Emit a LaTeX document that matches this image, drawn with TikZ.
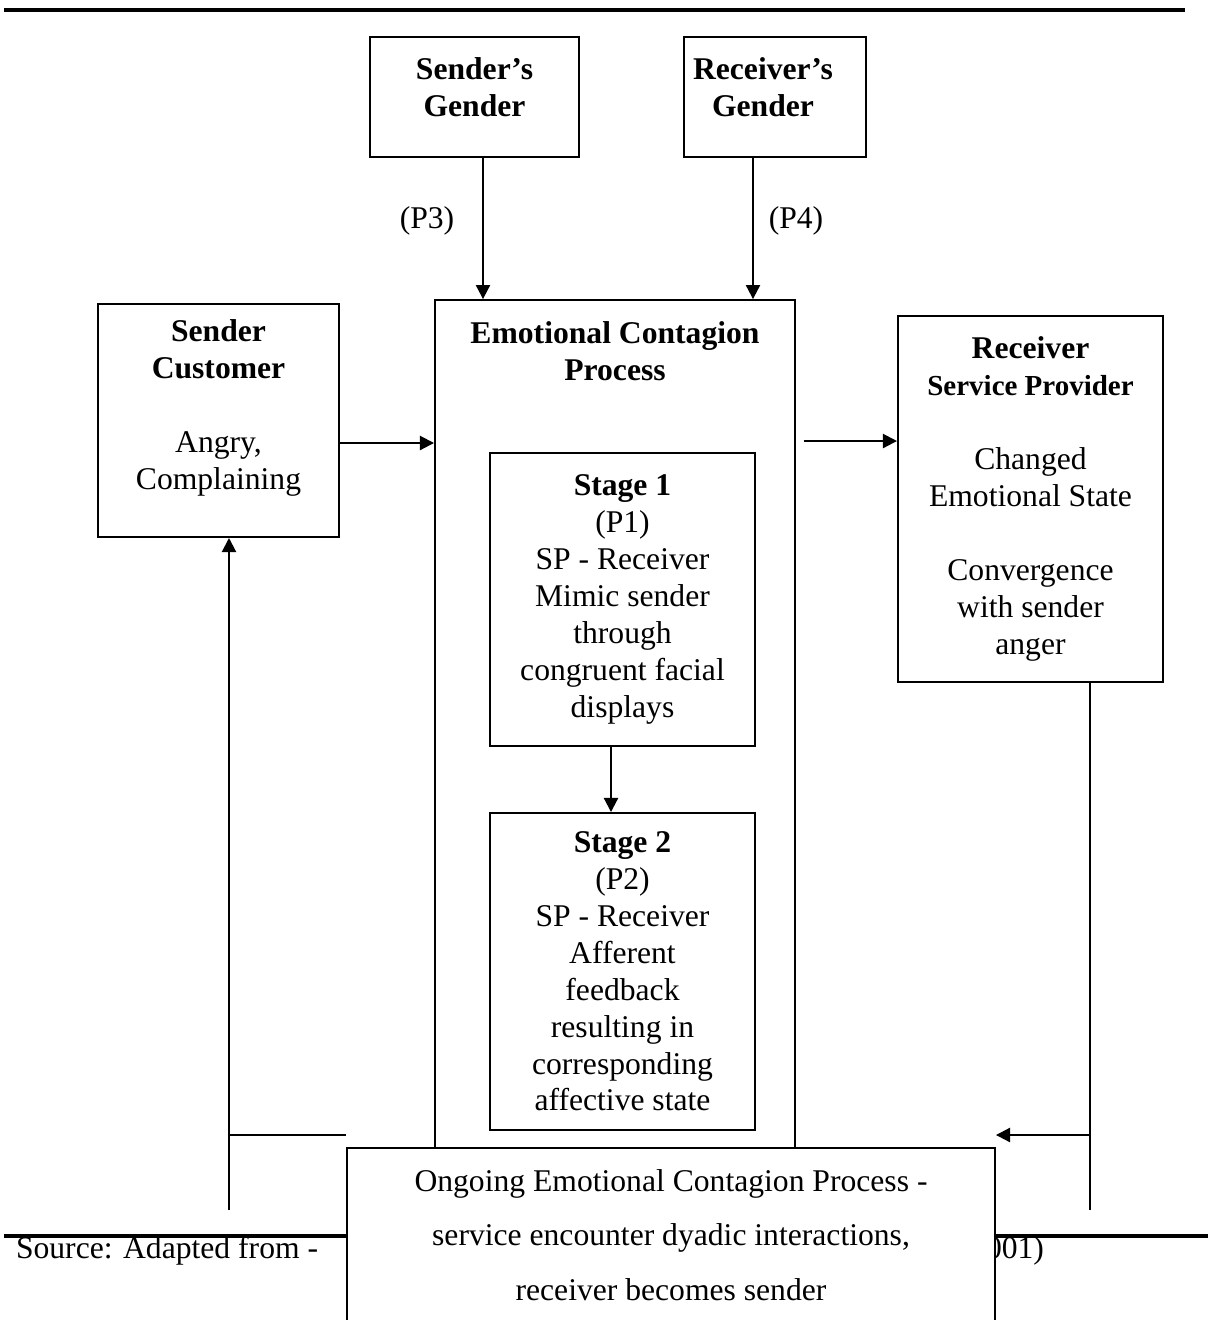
\documentclass[tikz,border=0pt]{standalone}
\usepackage{fontspec}
\setmainfont{Liberation Serif}
\usetikzlibrary{shapes,arrows.meta,positioning,calc}
\tikzstyle{block} = [rectangle, draw, inner sep=0pt]
\tikzstyle{txt} = [align=center, inner sep=0pt, font=\fontsize{18}{21}\selectfont]
\tikzstyle{rule} = [line width=1.8pt]

\begin{document}
\begin{tikzpicture}[x=0.02cm, y=-0.02cm, line width=1.15pt, >={Triangle[length=8pt,width=8pt]}]
    \useasboundingbox (0,0) rectangle (1208,1320);
    \draw[rule] (4,10) -- (1185,10);
    \draw[rule] (4,1236) -- (1208,1236);

    % moderators
    \node[block, minimum width=4.18cm, minimum height=2.4cm] (sgen) at (474.5,97) {};
    \node[txt, font=\fontsize{18}{21}\selectfont\bfseries] (sgentxt) at (474.5,87) {Sender’s\\Gender};
    \node[block, minimum width=3.64cm, minimum height=2.4cm] (rgen) at (775,97) {};
    \node[txt, font=\fontsize{18}{21}\selectfont\bfseries] (rgentxt) at (763,87) {Receiver’s\\Gender};
    \node[txt] (p3) at (427,221) {(P3)};
    \node[txt] (p4) at (796,221) {(P4)};

    % sender
    \node[block, minimum width=4.82cm, minimum height=4.66cm] (cust) at (218.5,420.5) {};
    \node[txt] (custtxt) at (218.5,408) {\textbf{Sender}\\\textbf{Customer}\\[21pt]Angry,\\Complaining};

    % process
    \node[block, minimum width=7.2cm, minimum height=18cm] (ecp) at (615,750) {};
    \node[txt, font=\fontsize{18}{21}\selectfont\bfseries] (ecptxt) at (615,351) {Emotional Contagion\\Process};
    \node[block, txt, minimum width=5.3cm, minimum height=5.86cm] (stage1) at (622.5,599.5)
        {\textbf{Stage 1}\\(P1)\\SP - Receiver\\Mimic sender\\through\\congruent facial\\displays};
    \node[block, txt, minimum width=5.3cm, minimum height=6.34cm] (stage2) at (622.5,971.5)
        {\textbf{Stage 2}\\(P2)\\SP - Receiver\\Afferent\\feedback\\resulting in\\corresponding\\affective state};

    % receiver
    \node[block, txt, minimum width=5.3cm, minimum height=7.32cm] (recv) at (1030.5,499)
        {\textbf{Receiver}\\{\fontsize{16.5}{20}\selectfont\bfseries Service Provider}\\[21pt]Changed\\Emotional State\\[21pt]Convergence\\with sender\\anger};

    % source line
    \node[txt, anchor=west] (src) at (15,1251) {Source: Adapted from -};
    \node[txt, anchor=east] (srcyr) at (1045,1251) {2001)};

    % ongoing process
    \node[block, fill=white, minimum width=12.96cm, minimum height=4.64cm] (ongo) at (671,1264) {};
    \node[txt, font=\fontsize{18}{31}\selectfont] (ongotxt) at (671,1235)
        {Ongoing Emotional Contagion Process -\\service encounter dyadic interactions,\\receiver becomes sender};

    % connections
    \coordinate (sgenout) at ([xshift=0.17cm]sgen.south);
    \coordinate (rgenout) at ([xshift=-0.44cm]rgen.south);
    \coordinate (custout) at ([yshift=-0.45cm]cust.east);
    \coordinate (recvin) at ([yshift=1.16cm]recv.west);
    \coordinate (s1out) at ([xshift=-0.23cm]stage1.south);
    \draw[->] (sgenout) -- (sgenout |- ecp.north);
    \draw[->] (rgenout) -- (rgenout |- ecp.north);
    \draw[->] (custout) -- (custout -| ecp.west);
    \draw[->, shorten <=0.16cm] (ecp.east |- recvin) -- (recvin);
    \draw[->] (s1out) -- (s1out |- stage2.north);

    % feedback
    \coordinate (lbot) at (229,1210);
    \coordinate (lmid) at (229,1135);
    \coordinate (rbot) at (1090,1210);
    \coordinate (rmid) at (1090,1135);
    \draw[->] (lbot) -- (lbot |- cust.south);
    \draw (lmid) -- (lmid -| ongo.west);
    \draw (rbot |- recv.south) -- (rbot);
    \draw[->] (rmid) -- (rmid -| ongo.east);
\end{tikzpicture}
\end{document}
